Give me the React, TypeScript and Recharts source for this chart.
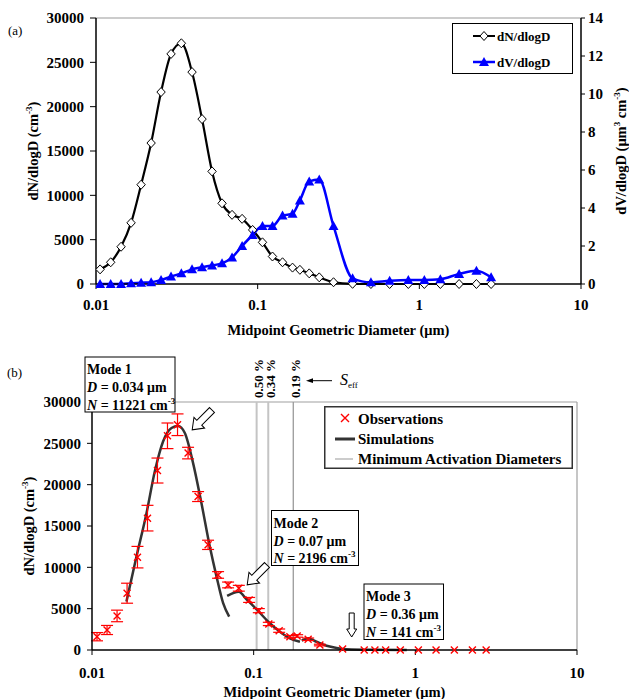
import React from "react";
import { ComposedChart, Line, Scatter, XAxis, YAxis, ReferenceLine, ErrorBar, Legend } from "recharts";

const FONT = '"Liberation Serif", "Times New Roman", serif';
const BLUE = "#0000ff";
const RED = "#ff0000";
const SIM = "#333333";

// (a) measured size distribution
const diamA = [0.0106, 0.01233, 0.01429, 0.01648, 0.01901, 0.02193, 0.02526, 0.02912, 0.03373, 0.03927, 0.04529, 0.05222, 0.06021, 0.06944, 0.08012, 0.09309, 0.1071, 0.1235, 0.1425, 0.1643, 0.1825, 0.2084, 0.2404, 0.2946, 0.3864, 0.5019, 0.655, 0.8549, 1.074, 1.349, 1.762, 2.255, 2.78];
const numA = [1650, 2450, 4200, 6900, 11200, 15900, 21650, 25950, 27150, 23900, 18600, 12700, 9100, 7800, 7350, 6100, 4700, 3100, 2450, 1850, 1600, 1200, 750, 200, 20, 0, 0, 0, 0, 0, 0, 0, 0];
const volA = [0, 0, 0, 0.04, 0.07, 0.09, 0.21, 0.39, 0.56, 0.77, 0.88, 0.98, 1.09, 1.4, 2.0, 2.58, 3.05, 3.05, 3.6, 3.7, 4.4, 5.4, 5.5, 3.05, 0.3, 0.09, 0.17, 0.21, 0.21, 0.25, 0.53, 0.7, 0.35];

// (b) observations with error bars
const diamB = [0.01074, 0.01239, 0.01429, 0.01648, 0.01911, 0.02204, 0.02541, 0.0293, 0.03381, 0.03929, 0.04531, 0.05224, 0.06024, 0.06947, 0.08094, 0.09373, 0.1076, 0.1241, 0.1438, 0.1675, 0.1858, 0.2173, 0.2568, 0.355, 0.4827, 0.5623, 0.6553, 0.8072, 1.044, 1.343, 1.743, 2.254, 2.741];
const numB = [1610, 2420, 4120, 6870, 11230, 15950, 21710, 25910, 27250, 23820, 18560, 12720, 9080, 7870, 7470, 6055, 4760, 3150, 2340, 1610, 1700, 1300, 600, 120, 0, 0, 0, 0, 0, 0, 0, 0, 0];
const errB = [500, 550, 700, 1210, 1300, 1550, 1510, 1550, 1310, 700, 600, 560, 400, 350, 350, 300, 250, 200, 200, 150, 150, 150, 100, 0, 0, 0, 0, 0, 0, 0, 0, 0, 0];

// (b) simulated modes
const mode1Diam = [0.01633, 0.01884, 0.02173, 0.02445, 0.02752, 0.03102, 0.0341, 0.03752, 0.0422, 0.04752, 0.05355, 0.05892, 0.06475, 0.07054];
const mode1Num = [5850, 11300, 16550, 21590, 25230, 26850, 27100, 26240, 22610, 17770, 12510, 8880, 5660, 4030];
const mode2Diam = [0.06855, 0.0809, 0.0903, 0.1042, 0.123, 0.1453, 0.1675, 0.1933];
const mode2Num = [6540, 7060, 6140, 4930, 3430, 2220, 1420, 1000];
const mode3Diam = [0.1982, 0.2175, 0.2448, 0.2825, 0.326, 0.3757, 0.524, 0.885];
const mode3Num = [1130, 1420, 1000, 520, 250, 90, 20, 0];

// minimum activation diameters
const actDiam = [0.1043, 0.1231, 0.1758];
const actLabel = ["0.50 %", "0.34 %", "0.19 %"];
const actColor = ["#c4c4c4", "#c4c4c4", "#9a9a9a"];

const xTicks = [0.01, 0.1, 1, 10];
const nTicks = [0, 5000, 10000, 15000, 20000, 25000, 30000];
const vTicks = [0, 2, 4, 6, 8, 10, 12, 14];

const panelA = diamA.map((d, i) => ({ d, n: numA[i], v: volA[i] }));
const obs = diamB.map((d, i) => ({ d, n: numB[i], e: errB[i] }));
const pts = (ds: number[], ns: number[]) => ds.map((d, i) => ({ d, n: ns[i] }));

const tick = { fill: "#000", fontSize: 15, fontWeight: "bold", fontFamily: FONT };
const axisLine = { stroke: "#000", strokeWidth: 1.5 };

const Diamond = (p: any) => {
  const { cx, cy, index } = p;
  if (cx == null || cy == null) return <g key={index} />;
  return <path key={index} d={`M${cx},${cy - 4.5}L${cx + 4.2},${cy}L${cx},${cy + 4.5}L${cx - 4.2},${cy}Z`} fill="#fff" stroke="#000" strokeWidth={1} />;
};

const Tri = (p: any) => {
  const { cx, cy, index } = p;
  if (cx == null || cy == null) return <g key={index} />;
  return <path key={index} d={`M${cx},${cy - 5}L${cx + 5},${cy + 4}L${cx - 5},${cy + 4}Z`} fill={BLUE} />;
};

const Cross = (p: any) => {
  const { cx, cy } = p;
  if (cx == null || cy == null) return <g />;
  return <path d={`M${cx - 3.5},${cy - 3.5}L${cx + 3.5},${cy + 3.5}M${cx - 3.5},${cy + 3.5}L${cx + 3.5},${cy - 3.5}`} stroke={RED} strokeWidth={1.4} fill="none" />;
};

const xTitle = (dy: number) => (p: any) => {
  const vb = p.viewBox;
  return (
    <text x={vb.x + vb.width / 2} y={vb.y + dy} textAnchor="middle" fontFamily={FONT} fontSize={14.5} fontWeight="bold" fill="#000">
      Midpoint Geometric Diameter (μm)
    </text>
  );
};

const nTitle = (bx: number) => (p: any) => {
  const vb = p.viewBox;
  const y = vb.y + vb.height / 2;
  return (
    <text transform={`translate(${bx},${y}) rotate(-90)`} textAnchor="middle" fontFamily={FONT} fontSize={14.5} fontWeight="bold" fill="#000">
      dN/dlogD (cm<tspan dy={-6} fontSize={9}>-3</tspan><tspan dy={6}>)</tspan>
    </text>
  );
};

const vTitle = (p: any) => {
  const vb = p.viewBox;
  const y = vb.y + vb.height / 2;
  return (
    <text transform={`translate(626,${y}) rotate(-90)`} textAnchor="middle" fontFamily={FONT} fontSize={14.5} fontWeight="bold" fill="#000">
      dV/dlogD (μm<tspan dy={-6} fontSize={9}>3</tspan><tspan dy={6}> cm</tspan><tspan dy={-6} fontSize={9}>-3</tspan><tspan dy={6}>)</tspan>
    </text>
  );
};

const actTag = (label: string) => (p: any) => {
  const vb = p.viewBox;
  const x = vb.x + 6.5;
  const y = vb.y - 4;
  return (
    <text transform={`translate(${x},${y}) rotate(-90)`} fontFamily={FONT} fontSize={13} fontWeight="bold" fill="#000">
      {label}
    </text>
  );
};

const LegendA = () => (
  <svg width={121} height={51} style={{ display: "block" }}>
    <rect x={0.5} y={0.5} width={120} height={50} fill="#fff" stroke="#000" />
    <g fontFamily={FONT} fontSize={13} fontWeight="bold" fill="#000">
      <line x1={21} x2={43} y1={13} y2={13} stroke="#000" strokeWidth={2} />
      <path d="M32,8.5L36,13L32,17.5L28,13Z" fill="#fff" stroke="#000" />
      <text x={45} y={17.5}>dN/dlogD</text>
      <line x1={21} x2={43} y1={39} y2={39} stroke={BLUE} strokeWidth={2.5} />
      <path d="M32,34L37,43L27,43Z" fill={BLUE} />
      <text x={45} y={43.5}>dV/dlogD</text>
    </g>
  </svg>
);

const LegendB = () => (
  <svg width={249} height={63} style={{ display: "block" }}>
    <rect x={0.75} y={0.75} width={247.5} height={61.5} fill="#fff" stroke="#333" strokeWidth={1.5} />
    <g fontFamily={FONT} fontSize={15} fontWeight="bold" fill="#000">
      <path d="M17,8L25,16M17,16L25,8" stroke={RED} strokeWidth={1.4} />
      <text x={34} y={17.5}>Observations</text>
      <line x1={11} x2={31} y1={33} y2={33} stroke={SIM} strokeWidth={3} />
      <text x={34} y={38}>Simulations</text>
      <line x1={11} x2={29} y1={53} y2={53} stroke="#999" strokeWidth={1} />
      <text x={34} y={58}>Minimum Activation Diameters</text>
    </g>
  </svg>
);

const BlockArrow = ({ x, y, angle, len, shaft, head, headLen }: any) => {
  const h = len - headLen;
  const p = `${-shaft},0 ${shaft},0 ${shaft},${h} ${head},${h} 0,${len} ${-head},${h} ${-shaft},${h}`;
  return <polygon points={p} transform={`translate(${x},${y}) rotate(${angle})`} fill="#fff" stroke="#000" strokeWidth={1} />;
};

const ModeBox = ({ x, y, w, h, name, d, n }: any) => (
  <g fontFamily={FONT} fontSize={14} fontWeight="bold" fill="#000">
    <rect x={x} y={y} width={w} height={h} fill="#fff" stroke="#000" strokeWidth={1} />
    <text x={x + 2} y={y + 17}>{name}</text>
    <text x={x + 2} y={y + 35}>
      <tspan fontStyle="italic">D</tspan> = {d} μm
    </text>
    <text x={x + 2} y={y + 52.5}>
      <tspan fontStyle="italic">N</tspan> = {n} cm<tspan dy={-6} fontSize={9}>-3</tspan>
    </text>
  </g>
);

export default function App() {
  return (
    <div style={{ position: "absolute", left: 0, top: 0, width: 629, height: 699, background: "#fff" }}>
      <div style={{ position: "absolute", left: 0, top: 0 }}>
        <ComposedChart width={629} height={345} data={panelA} margin={{ top: 18, right: 0, bottom: 0, left: 0 }}>
          <XAxis dataKey="d" type="number" scale="log" domain={[0.01, 10]} ticks={xTicks} allowDataOverflow
            height={61} tickSize={5} tickMargin={10} tick={tick} axisLine={axisLine} tickLine={{ stroke: "#000" }}
            label={xTitle(51)} />
          <YAxis yAxisId="n" width={96} domain={[0, 30000]} ticks={nTicks} tickSize={6} tickMargin={6}
            tick={tick} axisLine={axisLine} tickLine={{ stroke: "#000" }} label={nTitle(38)} />
          <YAxis yAxisId="v" orientation="right" width={48} domain={[0, 14]} ticks={vTicks} tickSize={4} tickMargin={3}
            tick={tick} axisLine={axisLine} tickLine={{ stroke: "#000" }} label={vTitle} />
          <ReferenceLine yAxisId="n" y={30000} stroke="#999" strokeWidth={1} />
          <Line yAxisId="n" dataKey="n" type="monotone" stroke="#000" strokeWidth={2.2} dot={Diamond} isAnimationActive={false} />
          <Line yAxisId="v" dataKey="v" type="monotone" stroke={BLUE} strokeWidth={2.5} dot={Tri} isAnimationActive={false} />
          <Legend layout="horizontal" verticalAlign="middle" align="center" content={LegendA}
            wrapperStyle={{ left: 452, top: 23, width: 121, height: 51 }} />
        </ComposedChart>
      </div>

      <div style={{ position: "absolute", left: 0, top: 345 }}>
        <ComposedChart width={629} height={354} margin={{ top: 57, right: 52, bottom: 0, left: 0 }}>
          <XAxis dataKey="d" type="number" scale="log" domain={[0.01, 10]} ticks={xTicks} allowDataOverflow
            height={49} tickSize={5} tickMargin={12} tick={tick} axisLine={axisLine} tickLine={{ stroke: "#000" }}
            label={xTitle(47)} />
          <YAxis width={92} domain={[0, 30000]} ticks={nTicks} tickSize={5} tickMargin={6}
            tick={tick} axisLine={axisLine} tickLine={{ stroke: "#000" }} label={nTitle(34)} />
          <ReferenceLine y={30000} stroke="#a0a0a0" strokeWidth={1.2} />
          <ReferenceLine x={10} stroke="#a0a0a0" strokeWidth={1.2} />
          {actDiam.map((d, i) => (
            <ReferenceLine key={d} x={d} stroke={actColor[i]} strokeWidth={i < 2 ? 2 : 1.3} label={actTag(actLabel[i])} />
          ))}
          <Line data={pts(mode1Diam, mode1Num)} dataKey="n" type="monotone" stroke={SIM} strokeWidth={2.5} dot={false} isAnimationActive={false} />
          <Line data={pts(mode2Diam, mode2Num)} dataKey="n" type="monotone" stroke={SIM} strokeWidth={2.5} dot={false} isAnimationActive={false} />
          <Line data={pts(mode3Diam, mode3Num)} dataKey="n" type="monotone" stroke={SIM} strokeWidth={2.5} dot={false} isAnimationActive={false} />
          <Scatter data={obs} dataKey="n" shape={Cross} isAnimationActive={false}>
            <ErrorBar dataKey="e" direction="y" width={6} stroke={RED} strokeWidth={1.2} />
          </Scatter>
          <Legend layout="horizontal" verticalAlign="middle" align="center" content={LegendB}
            wrapperStyle={{ left: 324, top: 61, width: 249, height: 63 }} />
        </ComposedChart>
      </div>

      <svg width={629} height={699} style={{ position: "absolute", left: 0, top: 0, pointerEvents: "none" }}>
        <g fontFamily={FONT} fontSize={13} fill="#000">
          <text x={8} y={35}>(a)</text>
          <text x={7} y={377}>(b)</text>
        </g>
        <ModeBox x={85} y={357} w={90} h={55} name="Mode 1" d="0.034" n="11221" />
        <ModeBox x={271.5} y={510.5} w={87} h={55} name="Mode 2" d="0.07" n="2196" />
        <ModeBox x={364} y={584} w={79.5} h={55.5} name="Mode 3" d="0.36" n="141" />
        <BlockArrow x={212} y={410} angle={45} len={28} shaft={3.5} head={7.5} headLen={10} />
        <BlockArrow x={267} y={565} angle={45} len={28} shaft={3.5} head={7.5} headLen={10} />
        <BlockArrow x={351.7} y={613} angle={0} len={24} shaft={2.5} head={5} headLen={8} />
        <line x1={332} x2={311} y1={380.7} y2={380.7} stroke="#000" strokeWidth={1} />
        <path d="M306,380.7L313,378.3L313,383.1Z" fill="#000" />
        <text x={340} y={385} fontFamily={FONT} fontSize={16} fontStyle="italic" fill="#000">
          S<tspan dy={3} fontSize={9} fontStyle="normal">eff</tspan>
        </text>
      </svg>
    </div>
  );
}
